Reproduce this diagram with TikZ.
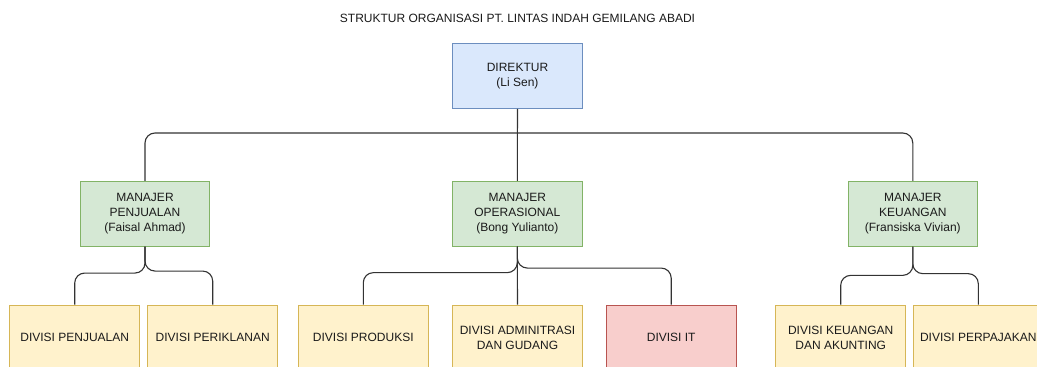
\documentclass[tikz,border=0pt]{standalone}
\usepackage{fontspec}
\setmainfont{Liberation Sans}
\definecolor{bluefill}{HTML}{DAE8FC}
\definecolor{bluedraw}{HTML}{6C8EBF}
\definecolor{greenfill}{HTML}{D5E8D4}
\definecolor{greendraw}{HTML}{82B366}
\definecolor{yellowfill}{HTML}{FFF2CC}
\definecolor{yellowdraw}{HTML}{D6B656}
\definecolor{redfill}{HTML}{F8CECC}
\definecolor{reddraw}{HTML}{B85450}
\definecolor{linecol}{HTML}{333333}
\definecolor{textcol}{HTML}{1A1A1A}
\begin{document}
\begin{tikzpicture}[x=1pt,y=-1pt,
  box/.style={draw, line width=0.9pt, minimum width=129.6pt, minimum height=65pt, inner sep=0pt,
    align=center, font=\fontsize{12}{15}\selectfont, text=textcol, anchor=center},
  dirbox/.style={box, fill=bluefill, draw=bluedraw},
  mgrbox/.style={box, fill=greenfill, draw=greendraw},
  divbox/.style={box, fill=yellowfill, draw=yellowdraw},
  itbox/.style={box, fill=redfill, draw=reddraw},
  conn/.style={draw=linecol, line width=1.1pt, rounded corners=10pt},
  title/.style={font=\fontsize{12}{14}\selectfont, text=textcol}]
\useasboundingbox (0,0) rectangle (1037,367);
\clip (0,0) rectangle (1037,367);
\fill[white] (0,0) rectangle (1037,367);

\node[title] (t) at (517.5,18) {STRUKTUR ORGANISASI PT. LINTAS INDAH GEMILANG ABADI};

\node[dirbox] (dir) at (517.5,75.8) {DIREKTUR\\(Li Sen)};

\node[mgrbox] (m1) at (145,213.7) {MANAJER\\PENJUALAN\\(Faisal Ahmad)};
\node[mgrbox] (m2) at (517.3,213.7) {MANAJER\\OPERASIONAL\\(Bong Yulianto)};
\node[mgrbox] (m3) at (912.8,213.7) {MANAJER\\KEUANGAN\\(Fransiska Vivian)};

\node[divbox] (d1) at (74.7,337.5) {DIVISI PENJUALAN};
\node[divbox] (d2) at (212.7,337.5) {DIVISI PERIKLANAN};
\node[divbox] (d3) at (363.3,337.5) {DIVISI PRODUKSI};
\node[divbox] (d4) at (517.5,337.5) {DIVISI ADMINITRASI\\DAN GUDANG};
\node[itbox]  (d5) at (671.2,337.5) {DIVISI IT};
\node[divbox] (d6) at (840.7,337.5) {DIVISI KEUANGAN\\DAN AKUNTING};
\node[divbox] (d7) at (978.3,337.5) {DIVISI PERPAJAKAN};

\coordinate (bus) at (0,133);
% director to managers
\draw[conn] (dir.south) -- (m2.north);
\draw[conn] (dir.south |- bus) -| (m1.north);
\draw[conn] (dir.south |- bus) -| (m3.north);

% managers to divisions
\draw[conn] (m1.south) -- ++(0,26.4) -| (d1.north);
\draw[conn] (m1.south) -- ++(0,24.4) -| (d2.north);
\draw[conn] (m2.south) -- ++(0,26) -| (d3.north);
\draw[conn] (m2.south) -- (d4.north);
\draw[conn] (m2.south) -- ++(0,21.4) -| (d5.north);
\draw[conn] (m3.south) -- ++(0,28.7) -| (d6.north);
\draw[conn] (m3.south) -- ++(0,27) -| (d7.north);
\end{tikzpicture}
\end{document}
